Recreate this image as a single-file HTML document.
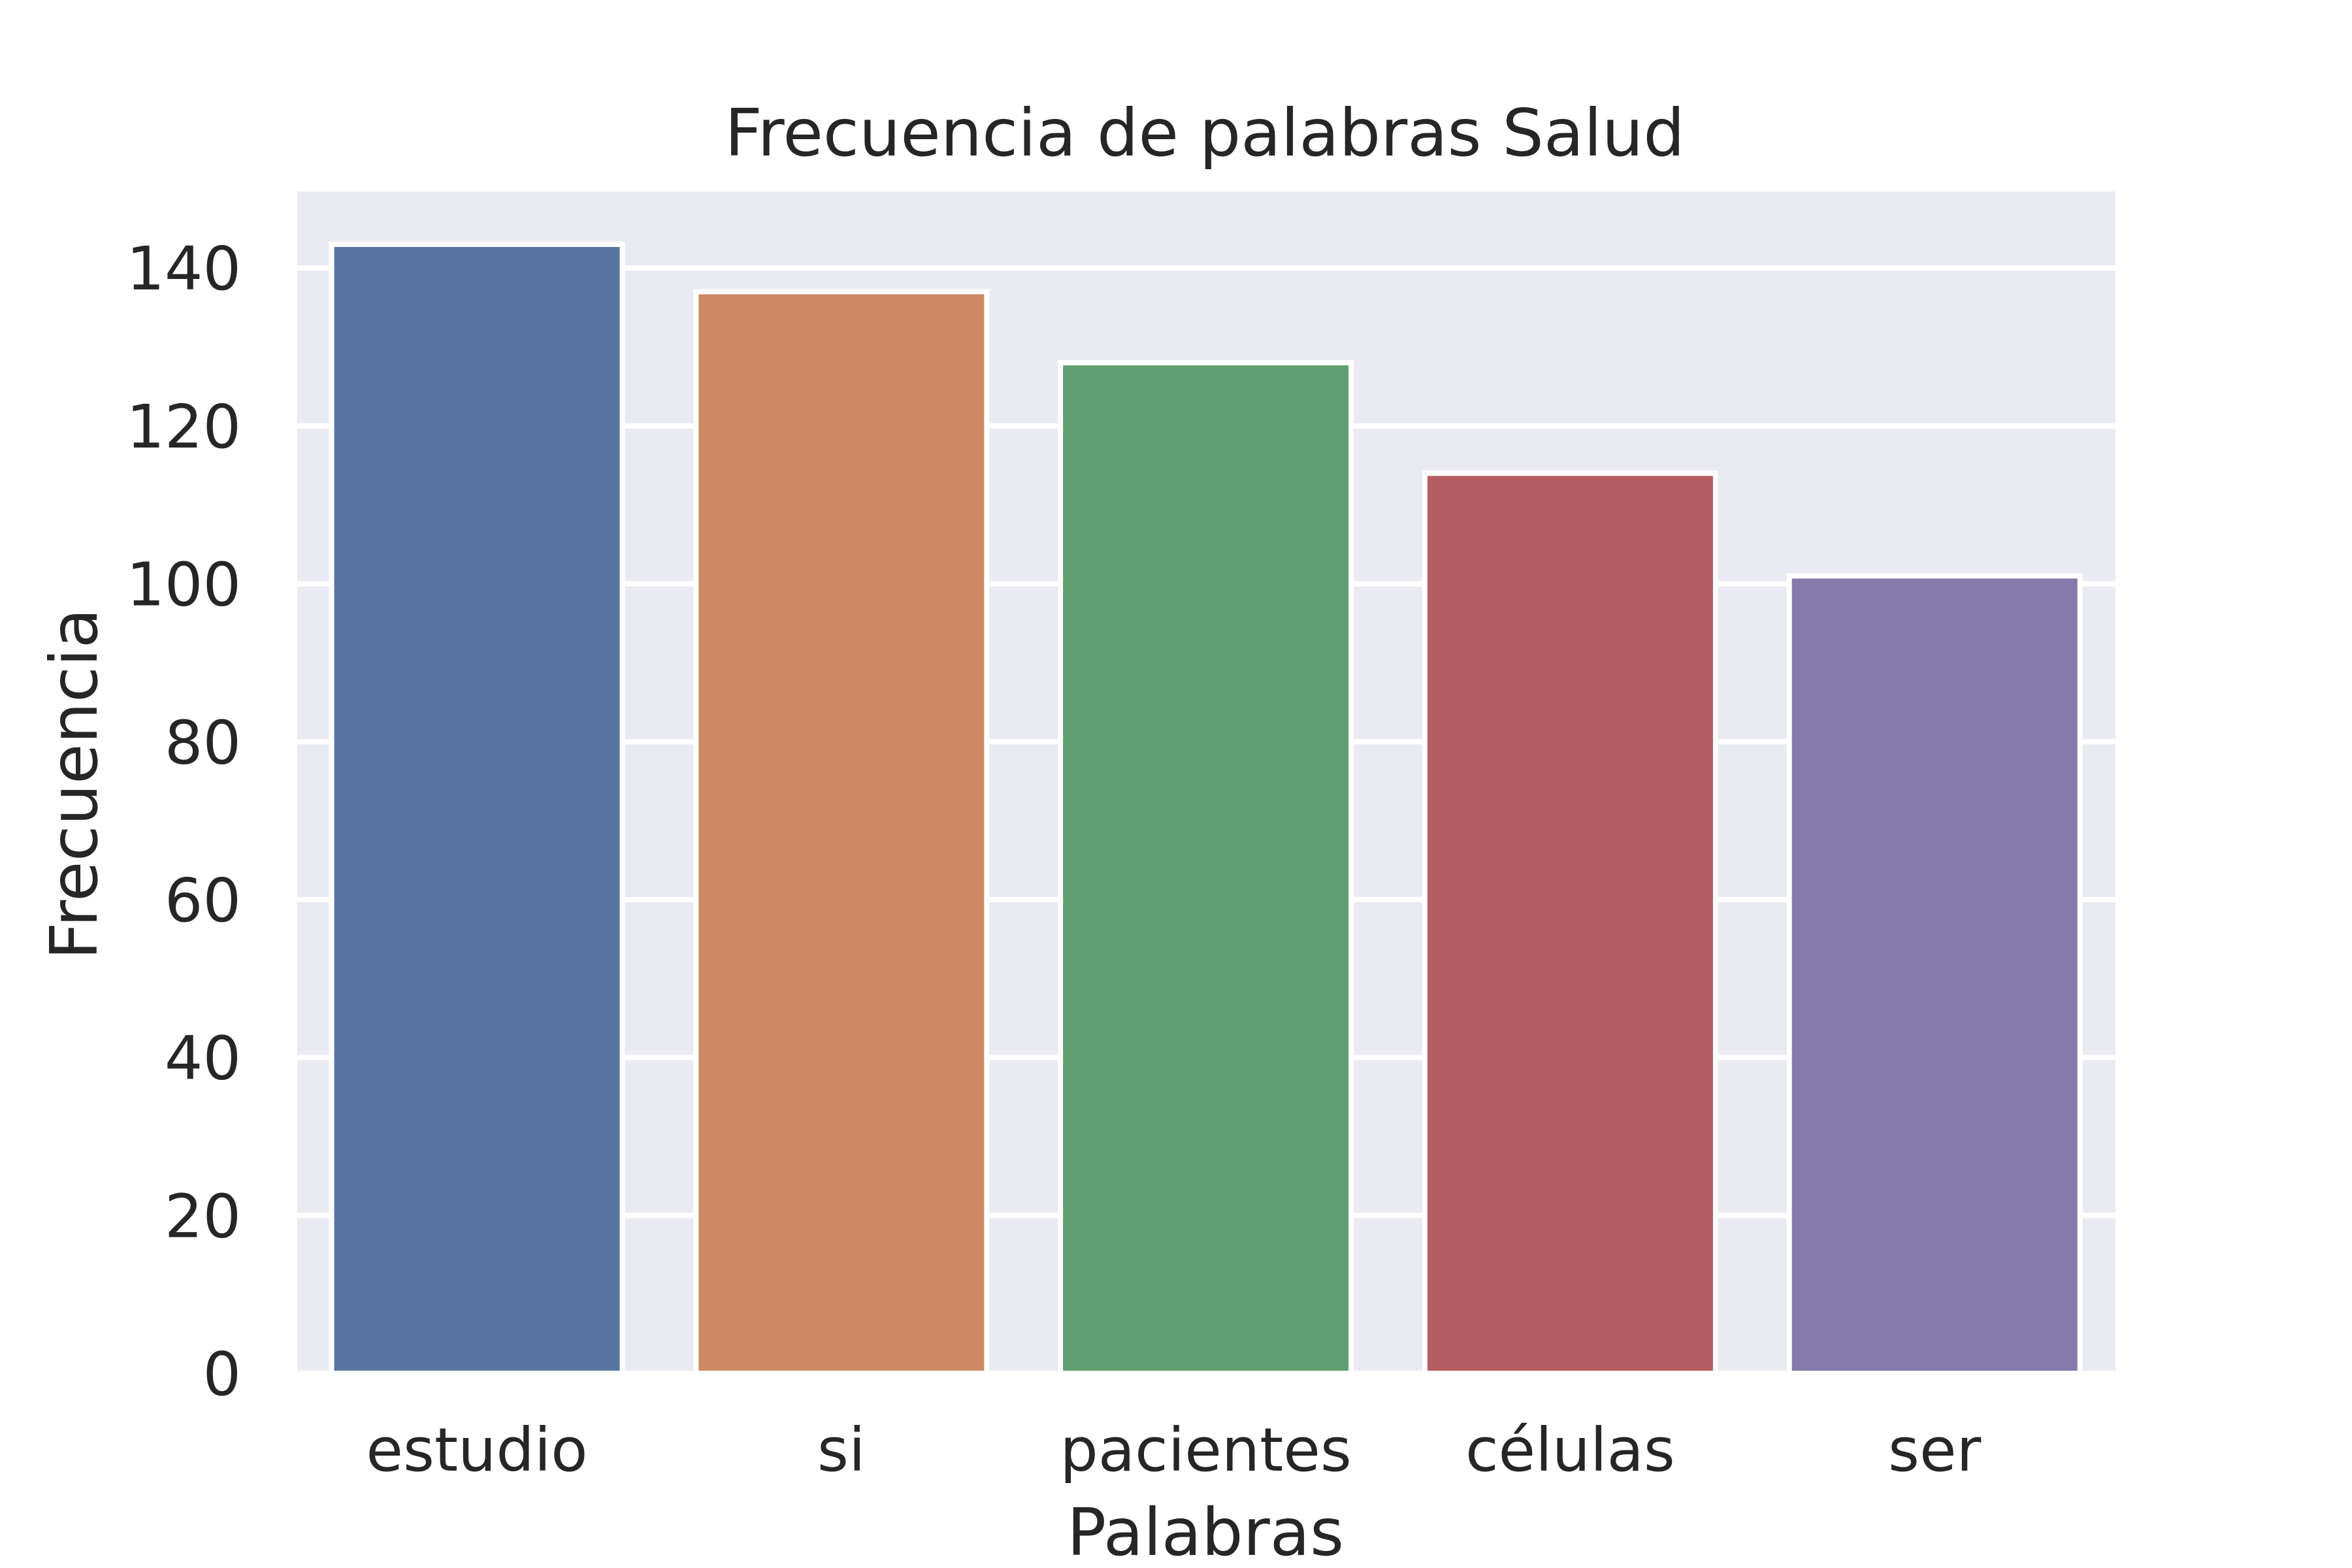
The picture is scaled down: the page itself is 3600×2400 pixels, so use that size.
<!DOCTYPE html>
<html><head><meta charset="utf-8"><style>html,body{margin:0;padding:0;background:#fff}svg{display:block}</style></head>
<body>
<svg id="chart" width="3600" height="2400" xmlns="http://www.w3.org/2000/svg" font-family="'DejaVu Sans','Liberation Sans',sans-serif" fill="#262626">
<rect x="455" y="293" width="2783" height="1809" fill="#eaeaf2"/>
<g id="grid"></g>
<g id="bars"></g>
<g id="labels"></g>
<text x="1844" y="238" font-size="100" text-anchor="middle">Frecuencia de palabras Salud</text>
<text x="1845" y="2380" font-size="100" text-anchor="middle">Palabras</text>
<text x="0" y="0" font-size="100" text-anchor="middle" transform="translate(148,1200) rotate(-90)">Frecuencia</text>
</svg>
<script>
const categories = ["estudio", "si", "pacientes", "células", "ser"];
const values = [143, 137, 128, 114, 101];
const yTicks = [0, 20, 40, 60, 80, 100, 120, 140];
const colors = ["#5975a4", "#cc8963", "#5f9e6e", "#b55d60", "#857aab"];

const NS = "http://www.w3.org/2000/svg";
const plotL = 455, plotR = 3238, plotT = 293, plotB = 2102;
const yMax = 149.7;
function yScale(v){ return plotB - v / yMax * (plotB - plotT); }
const c0 = 730, step = 557.8, barW = 445;
function xScale(i){ return c0 + i * step; }

const grid = document.getElementById('grid');
const labels = document.getElementById('labels');
yTicks.forEach(t => {
  const y = yScale(t);
  const l = document.createElementNS(NS, 'line');
  
  
  l.setAttribute('x1', plotL); l.setAttribute('x2', plotR);
  l.setAttribute('y1', y); l.setAttribute('y2', y);
  l.setAttribute('stroke', '#fff'); l.setAttribute('stroke-width', '8');
  grid.appendChild(l);
  const tx = document.createElementNS(NS, 'text');
  
  
  tx.setAttribute('x', 369); tx.setAttribute('y', y + 33);
  tx.setAttribute('font-size', '92'); tx.setAttribute('text-anchor', 'end');
  tx.textContent = t;
  labels.appendChild(tx);
});
const bars = document.getElementById('bars');
categories.forEach((c, i) => {
  const r = document.createElementNS(NS, 'rect');
  
  
  const yTop = yScale(values[i]);
  r.setAttribute('x', xScale(i) - barW / 2); r.setAttribute('width', barW);
  r.setAttribute('y', yTop); r.setAttribute('height', yScale(0) - yTop);
  r.setAttribute('fill', colors[i]); r.setAttribute('stroke', '#fff'); r.setAttribute('stroke-width', '8');
  bars.appendChild(r);
  const tx = document.createElementNS(NS, 'text');
  
  
  tx.setAttribute('x', xScale(i)); tx.setAttribute('y', 2251);
  tx.setAttribute('font-size', '92'); tx.setAttribute('text-anchor', 'middle');
  tx.textContent = c;
  labels.appendChild(tx);
});
</script>
</body></html>
